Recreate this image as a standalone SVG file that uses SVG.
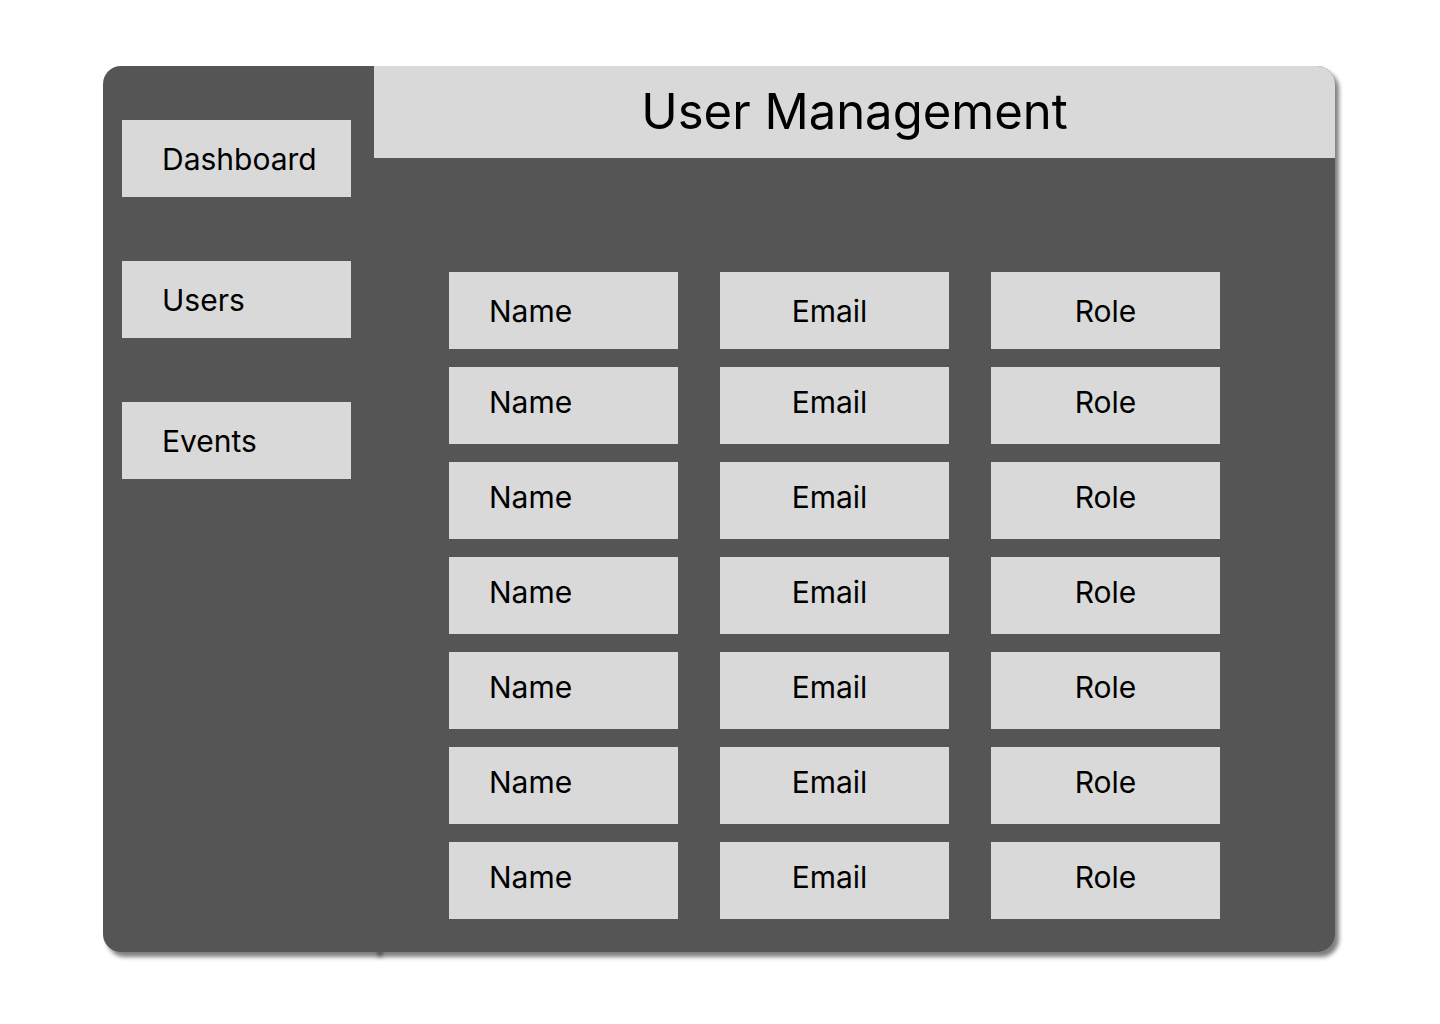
<svg xmlns="http://www.w3.org/2000/svg" width="1440" height="1024" viewBox="0 0 1440 1024">
<defs>
<filter id="sh" x="-5%" y="-5%" width="110%" height="110%">
<feDropShadow dx="4" dy="5" stdDeviation="2" flood-color="#000" flood-opacity="0.5"/>
</filter>
</defs>
<style>
.panel{fill:#555555}
.box{fill:#d9d9d9}
.t{font-family:Inter,"Liberation Sans",sans-serif;font-size:30px;fill:#000}
.title{font-family:Inter,"Liberation Sans",sans-serif;font-size:49px;fill:#000}
.c{text-anchor:middle}
</style>
<rect width="1440" height="1024" fill="#ffffff"/>
<g id="sidebar">
<path class="panel" filter="url(#sh)" d="M121 66 H378 V952 H121 A18 18 0 0 1 103 934 V84 A18 18 0 0 1 121 66 Z"/>
</g>
<g id="main-panel">
<path class="panel" filter="url(#sh)" d="M374 66 H1317 A18 18 0 0 1 1335 84 V934 A18 18 0 0 1 1317 952 H374 Z"/>
</g>
<g id="header">
<path class="box" d="M374 66 H1317 A18 18 0 0 1 1335 84 V158 H374 Z"/>
<text class="title c" x="854.5" y="129">User Management</text>
</g>
<g id="nav-dashboard"><rect class="box" x="122" y="120" width="229" height="77"/><text class="t" x="162" y="170">Dashboard</text></g>
<g id="nav-users"><rect class="box" x="122" y="261" width="229" height="77"/><text class="t" x="162" y="311">Users</text></g>
<g id="nav-events"><rect class="box" x="122" y="402" width="229" height="77"/><text class="t" x="162" y="452">Events</text></g>

<g id="row1">
<g id="name1"><rect class="box" x="449" y="272" width="229" height="77"/><text class="t" x="489" y="322">Name</text></g>
<g id="email1"><rect class="box" x="720" y="272" width="229" height="77"/><text class="t c" x="829.5" y="322">Email</text></g>
<g id="role1"><rect class="box" x="991" y="272" width="229" height="77"/><text class="t c" x="1105.5" y="322">Role</text></g>
</g>
<g id="row2">
<g id="name2"><rect class="box" x="449" y="367" width="229" height="77"/><text class="t" x="489" y="413">Name</text></g>
<g id="email2"><rect class="box" x="720" y="367" width="229" height="77"/><text class="t c" x="829.5" y="413">Email</text></g>
<g id="role2"><rect class="box" x="991" y="367" width="229" height="77"/><text class="t c" x="1105.5" y="413">Role</text></g>
</g>
<g id="row3">
<g id="name3"><rect class="box" x="449" y="462" width="229" height="77"/><text class="t" x="489" y="508">Name</text></g>
<g id="email3"><rect class="box" x="720" y="462" width="229" height="77"/><text class="t c" x="829.5" y="508">Email</text></g>
<g id="role3"><rect class="box" x="991" y="462" width="229" height="77"/><text class="t c" x="1105.5" y="508">Role</text></g>
</g>
<g id="row4">
<g id="name4"><rect class="box" x="449" y="557" width="229" height="77"/><text class="t" x="489" y="603">Name</text></g>
<g id="email4"><rect class="box" x="720" y="557" width="229" height="77"/><text class="t c" x="829.5" y="603">Email</text></g>
<g id="role4"><rect class="box" x="991" y="557" width="229" height="77"/><text class="t c" x="1105.5" y="603">Role</text></g>
</g>
<g id="row5">
<g id="name5"><rect class="box" x="449" y="652" width="229" height="77"/><text class="t" x="489" y="698">Name</text></g>
<g id="email5"><rect class="box" x="720" y="652" width="229" height="77"/><text class="t c" x="829.5" y="698">Email</text></g>
<g id="role5"><rect class="box" x="991" y="652" width="229" height="77"/><text class="t c" x="1105.5" y="698">Role</text></g>
</g>
<g id="row6">
<g id="name6"><rect class="box" x="449" y="747" width="229" height="77"/><text class="t" x="489" y="793">Name</text></g>
<g id="email6"><rect class="box" x="720" y="747" width="229" height="77"/><text class="t c" x="829.5" y="793">Email</text></g>
<g id="role6"><rect class="box" x="991" y="747" width="229" height="77"/><text class="t c" x="1105.5" y="793">Role</text></g>
</g>
<g id="row7">
<g id="name7"><rect class="box" x="449" y="842" width="229" height="77"/><text class="t" x="489" y="888">Name</text></g>
<g id="email7"><rect class="box" x="720" y="842" width="229" height="77"/><text class="t c" x="829.5" y="888">Email</text></g>
<g id="role7"><rect class="box" x="991" y="842" width="229" height="77"/><text class="t c" x="1105.5" y="888">Role</text></g>
</g>
<g id="connectors"></g>
</svg>
